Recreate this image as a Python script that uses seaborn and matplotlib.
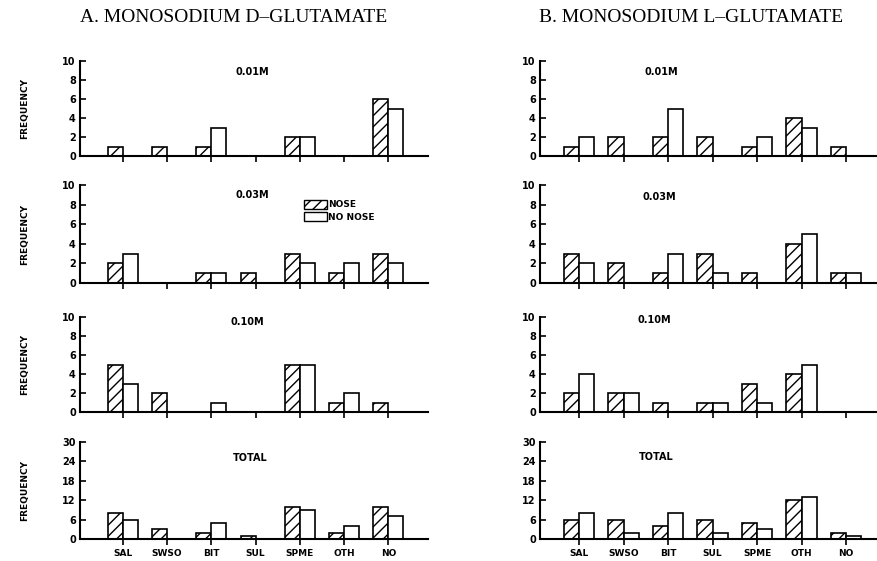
import pandas as pd
import matplotlib.pyplot as plt
import seaborn as sns
from matplotlib.patches import Patch

sns.set_style("white")
plt.rcParams['font.family'] = ['DejaVu Sans']
plt.rcParams['hatch.linewidth'] = 1.0
plt.rcParams['text.color'] = 'black'
plt.rcParams['axes.labelcolor'] = 'black'
plt.rcParams['xtick.color'] = 'black'
plt.rcParams['ytick.color'] = 'black'

# categorias de resposta
categories = ['SAL', 'SWSO', 'BIT', 'SUL', 'SPME', 'OTH', 'NO']
conditions = ['0.01M', '0.03M', '0.10M', 'TOTAL']

# A. D-glutamato (nariz / sem nariz)
d_nose_001 = [1, 1, 1, 0, 2, 0, 6]
d_nonose_001 = [0, 0, 3, 0, 2, 0, 5]
d_nose_003 = [2, 0, 1, 1, 3, 1, 3]
d_nonose_003 = [3, 0, 1, 0, 2, 2, 2]
d_nose_010 = [5, 2, 0, 0, 5, 1, 1]
d_nonose_010 = [3, 0, 1, 0, 5, 2, 0]
d_nose_tot = [8, 3, 2, 1, 10, 2, 10]
d_nonose_tot = [6, 0, 5, 0, 9, 4, 7]

# B. L-glutamato
l_nose_001 = [1, 2, 2, 2, 1, 4, 1]
l_nonose_001 = [2, 0, 5, 0, 2, 3, 0]
l_nose_003 = [3, 2, 1, 3, 1, 4, 1]
l_nonose_003 = [2, 0, 3, 1, 0, 5, 1]
l_nose_010 = [2, 2, 1, 1, 3, 4, 0]
l_nonose_010 = [4, 2, 0, 1, 1, 5, 0]
l_nose_tot = [6, 6, 4, 6, 5, 12, 2]
l_nonose_tot = [8, 2, 8, 2, 3, 13, 1]

panels = {
    'A': [(d_nose_001, d_nonose_001), (d_nose_003, d_nonose_003),
          (d_nose_010, d_nonose_010), (d_nose_tot, d_nonose_tot)],
    'B': [(l_nose_001, l_nonose_001), (l_nose_003, l_nonose_003),
          (l_nose_010, l_nonose_010), (l_nose_tot, l_nonose_tot)],
}
titles = {'A': 'A. MONOSODIUM D\u2013GLUTAMATE', 'B': 'B. MONOSODIUM L\u2013GLUTAMATE'}

fig = plt.figure(figsize=(8.77, 5.61), dpi=100)

# posicoes (fig fraction)
col_x = {'A': (0.0912, 0.397, (-0.97, 6.9)), 'B': (0.6157, 0.384, (-0.88, 6.69))}
rows_y = [(0.7219, 0.1693), (0.4955, 0.1747), (0.2656, 0.1693), (0.0392, 0.1729)]
lab_pos = {'A': [(0.494, 0.88), (0.494, 0.90), (0.48, 0.95), (0.49, 0.835)],
           'B': [(0.36, 0.88), (0.355, 0.875), (0.34, 0.97), (0.345, 0.85)]}

for key in ['A', 'B']:
    x0, w, xlim = col_x[key]
    for i, (nose, nonose) in enumerate(panels[key]):
        y0, h = rows_y[i]
        ax = fig.add_axes([x0, y0, w, h])
        df = pd.DataFrame({
            'cat': categories * 2,
            'freq': nose + nonose,
            'grupo': ['NOSE'] * 7 + ['NO NOSE'] * 7,
        })
        sns.barplot(data=df, x='cat', y='freq', hue='grupo', order=categories,
                    hue_order=['NOSE', 'NO NOSE'], palette=['white', 'white'],
                    saturation=1, edgecolor='black', linewidth=1.2, width=0.68,
                    legend=False, ax=ax)
        for bar in ax.containers[0]:
            bar.set_hatch('///')
        ax.set_xlim(*xlim)
        if i < 3:
            ax.set_ylim(0, 10)
            ax.set_yticks([0, 2, 4, 6, 8, 10])
        else:
            ax.set_ylim(0, 30)
            ax.set_yticks([0, 6, 12, 18, 24, 30])
        ax.set_xlabel('')
        ax.set_ylabel('')
        sns.despine(ax=ax)
        for s in ['left', 'bottom']:
            ax.spines[s].set_linewidth(1.5)
            ax.spines[s].set_color('black')
        ax.tick_params(axis='y', direction='in', length=4, width=1.2,
                       labelsize=7, pad=3, left=True)
        ax.tick_params(axis='x', direction='out', length=4, width=1.2,
                       labelsize=6.5, pad=3, bottom=True)
        for t in ax.get_yticklabels() + ax.get_xticklabels():
            t.set_fontweight('bold')
        if i < 3:
            ax.set_xticklabels([])
        lx, ly = lab_pos[key][i]
        ax.text(lx, ly, conditions[i], transform=ax.transAxes, ha='center',
                va='center', fontsize=7, fontweight='bold')
        if key == 'A':
            ax.set_ylabel('FREQUENCY', fontsize=6.5, fontweight='bold', labelpad=24)
        if key == 'A' and i == 1:
            handles = [Patch(facecolor='white', edgecolor='black', hatch='///', label='NOSE'),
                       Patch(facecolor='white', edgecolor='black', label='NO NOSE')]
            ax.legend(handles=handles, loc='upper left', bbox_to_anchor=(0.62, 0.93),
                      frameon=False, handlelength=2.6, handleheight=1.1,
                      handletextpad=0.1, labelspacing=0.3,
                      prop={'weight': 'bold', 'size': 6.5})

fig.text(0.266, 0.968, titles['A'], ha='center', va='center', fontsize=14,
         family='Liberation Serif')
fig.text(0.788, 0.968, titles['B'], ha='center', va='center', fontsize=14,
         family='Liberation Serif')

plt.savefig('out.png', dpi=100)
